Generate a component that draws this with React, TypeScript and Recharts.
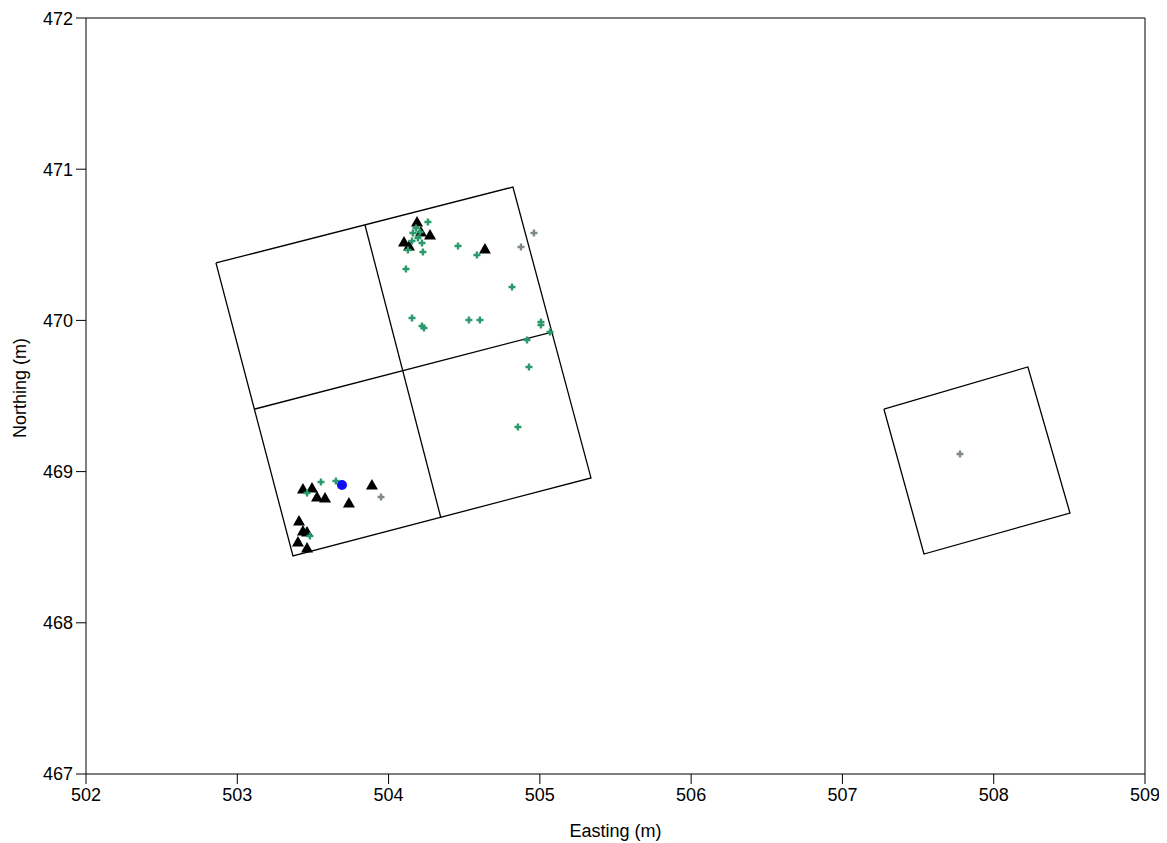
import React from 'react'
import { ScatterChart, Scatter, XAxis, YAxis, ReferenceLine } from 'recharts'

// survey grid outlines (Easting, Northing in m)
const bigSquare = [
  { x: 502.859, y: 470.38 },
  { x: 504.822, y: 470.882 },
  { x: 505.338, y: 468.958 },
  { x: 503.368, y: 468.442 },
  { x: 502.859, y: 470.38 },
]
const dividerA = [
  { x: 503.844, y: 470.631 },
  { x: 504.346, y: 468.693 },
]
const dividerB = [
  { x: 503.117, y: 469.414 },
  { x: 505.08, y: 469.923 },
]
const smallSquare = [
  { x: 507.274, y: 469.414 },
  { x: 508.226, y: 469.692 },
  { x: 508.504, y: 468.726 },
  { x: 507.539, y: 468.455 },
  { x: 507.274, y: 469.414 },
]

const triangles = [
  { x: 504.188, y: 470.651 },
  { x: 504.214, y: 470.585 },
  { x: 504.274, y: 470.565 },
  { x: 504.102, y: 470.519 },
  { x: 504.135, y: 470.492 },
  { x: 504.637, y: 470.472 },
  { x: 503.434, y: 468.885 },
  { x: 503.494, y: 468.892 },
  { x: 503.527, y: 468.832 },
  { x: 503.58, y: 468.825 },
  { x: 503.738, y: 468.792 },
  { x: 503.89, y: 468.911 },
  { x: 503.408, y: 468.673 },
  { x: 503.434, y: 468.607 },
  { x: 503.461, y: 468.601 },
  { x: 503.401, y: 468.534 },
  { x: 503.461, y: 468.495 },
]

const greenCrosses = [
  { x: 504.26, y: 470.651 },
  { x: 504.161, y: 470.578 },
  { x: 504.208, y: 470.585 },
  { x: 504.221, y: 470.512 },
  { x: 504.128, y: 470.466 },
  { x: 504.227, y: 470.452 },
  { x: 504.181, y: 470.611 },
  { x: 504.194, y: 470.545 },
  { x: 504.155, y: 470.525 },
  { x: 504.459, y: 470.492 },
  { x: 504.584, y: 470.433 },
  { x: 504.115, y: 470.34 },
  { x: 504.816, y: 470.221 },
  { x: 504.155, y: 470.016 },
  { x: 504.221, y: 469.963 },
  { x: 504.234, y: 469.95 },
  { x: 504.531, y: 470.003 },
  { x: 504.604, y: 470.003 },
  { x: 505.007, y: 469.989 },
  { x: 505.007, y: 469.97 },
  { x: 505.067, y: 469.923 },
  { x: 504.915, y: 469.87 },
  { x: 504.928, y: 469.692 },
  { x: 504.855, y: 469.295 },
  { x: 503.553, y: 468.931 },
  { x: 503.652, y: 468.938 },
  { x: 503.461, y: 468.858 },
  { x: 503.48, y: 468.574 },
]

const grayCrosses = [
  { x: 504.961, y: 470.578 },
  { x: 504.875, y: 470.485 },
  { x: 503.95, y: 468.832 },
  { x: 507.777, y: 469.116 },
]

const bluePoint = [{ x: 503.692, y: 468.911 }]

const xTicks = [502, 503, 504, 505, 506, 507, 508, 509]
const yTicks = [467, 468, 469, 470, 471, 472]

const font = 'Liberation Sans, Arial, sans-serif'

const plus = (color: string) => (p: any) => (
  <path
    d={`M${p.cx - 3.5},${p.cy}h7M${p.cx},${p.cy - 3.5}v7`}
    stroke={color}
    strokeWidth={2.4}
    fill="none"
  />
)

const triangle = (p: any) => (
  <path
    d={`M${p.cx},${p.cy - 6}L${p.cx + 6},${p.cy + 4.5}L${p.cx - 6},${p.cy + 4.5}Z`}
    fill="#000"
  />
)

const dot = (p: any) => <circle cx={p.cx} cy={p.cy} r={5} fill="#1010f0" />

const none = () => <g />

export default function App() {
  return (
    <div style={{ fontFamily: font }}>
      <ScatterChart width={1159} height={835} margin={{ top: 10, right: 22, bottom: 0, left: 0 }}>
        <XAxis
          type="number"
          dataKey="x"
          domain={[502, 509]}
          ticks={xTicks}
          allowDataOverflow
          stroke="#000"
          tickSize={10}
          tickMargin={4}
          height={69}
          tick={{ fill: '#000', fontSize: 18, fontFamily: font }}
          label={{ value: 'Easting (m)', position: 'insideBottom', offset: 6, fill: '#000', fontSize: 18, fontFamily: font }}
        />
        <YAxis
          type="number"
          dataKey="y"
          domain={[467, 472]}
          ticks={yTicks}
          allowDataOverflow
          stroke="#000"
          tickSize={10}
          tickMargin={3}
          width={78}
          tick={{ fill: '#000', fontSize: 18, fontFamily: font }}
          label={{ value: 'Northing (m)', angle: -90, position: 'insideLeft', offset: 12, dy: -8, fill: '#000', fontSize: 18, fontFamily: font, style: { textAnchor: 'middle' } }}
        />
        <ReferenceLine y={472} stroke="#000" ifOverflow="visible" />
        <ReferenceLine x={509} stroke="#000" ifOverflow="visible" />
        <Scatter data={bigSquare} line={{ stroke: '#000', strokeWidth: 1.3 }} shape={none} isAnimationActive={false} />
        <Scatter data={dividerA} line={{ stroke: '#000', strokeWidth: 1.3 }} shape={none} isAnimationActive={false} />
        <Scatter data={dividerB} line={{ stroke: '#000', strokeWidth: 1.3 }} shape={none} isAnimationActive={false} />
        <Scatter data={smallSquare} line={{ stroke: '#000', strokeWidth: 1.3 }} shape={none} isAnimationActive={false} />
        <Scatter data={triangles} shape={triangle} isAnimationActive={false} />
        <Scatter data={grayCrosses} shape={plus('#7f8a85')} isAnimationActive={false} />
        <Scatter data={greenCrosses} shape={plus('#2a9a6c')} isAnimationActive={false} />
        <Scatter data={bluePoint} shape={dot} isAnimationActive={false} />
      </ScatterChart>
    </div>
  )
}
